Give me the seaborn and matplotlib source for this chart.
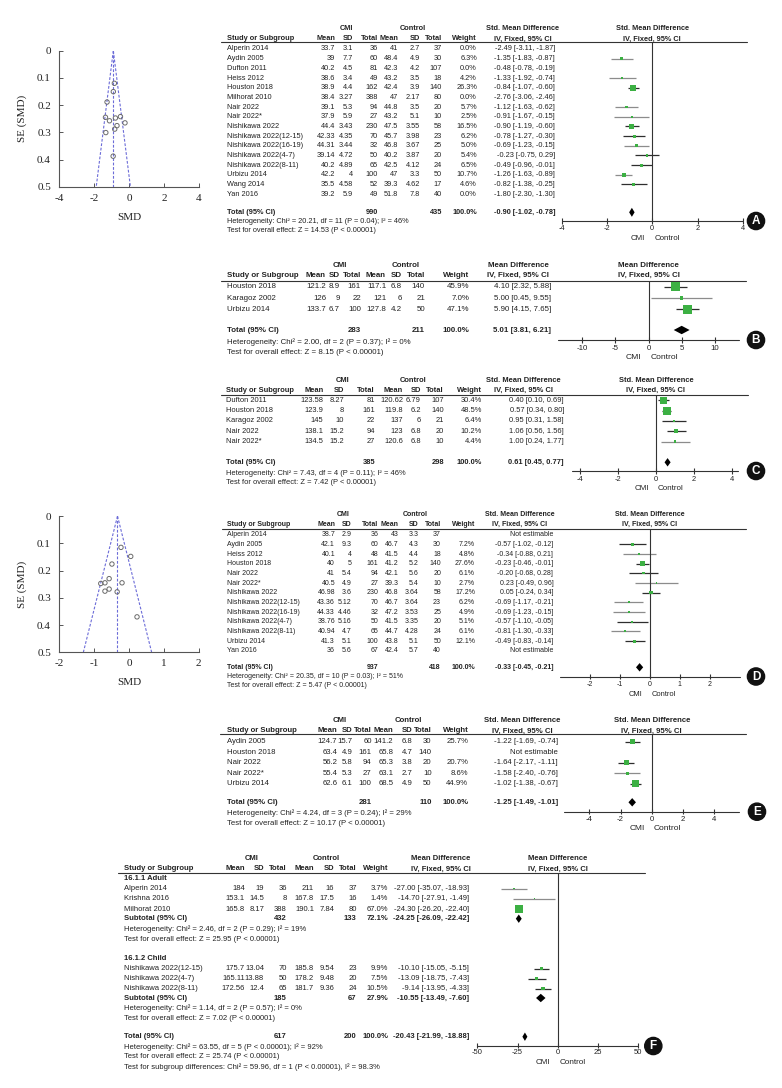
import numpy as np
import matplotlib
matplotlib.use("Agg")
import matplotlib.pyplot as plt
import seaborn as sns
from matplotlib.patches import Circle

sns.set_theme(style="white")
plt.rcParams['font.family'] = ['Liberation Sans', 'DejaVu Sans']
plt.rcParams['axes.unicode_minus'] = False

##-------------------------------------------
## data
# A: std. mean difference
a_study = ["Alperin 2014", "Aydin 2005", "Dufton 2011", "Heiss 2012", "Houston 2018", "Milhorat 2010",
           "Nair 2022", "Nair 2022*", "Nishikawa 2022", "Nishikawa 2022(12-15)", "Nishikawa 2022(16-19)",
           "Nishikawa 2022(4-7)", "Nishikawa 2022(8-11)", "Urbizu 2014", "Wang 2014", "Yan 2016"]
a_cmi_mean = [33.7, 39, 40.2, 38.6, 38.9, 38.4, 39.1, 37.9, 44.4, 42.33, 44.31, 39.14, 40.2, 42.2, 35.5, 39.2]
a_cmi_sd = [3.1, 7.7, 4.5, 3.4, 4.4, 3.27, 5.3, 5.9, 3.43, 4.35, 3.44, 4.72, 4.89, 4, 4.58, 5.9]
a_cmi_n = [36, 60, 81, 49, 162, 388, 94, 27, 230, 70, 32, 50, 65, 100, 52, 49]
a_ctl_mean = [41, 48.4, 42.3, 43.2, 42.4, 47, 44.8, 43.2, 47.5, 45.7, 46.8, 40.2, 42.5, 47, 39.3, 51.8]
a_ctl_sd = [2.7, 4.9, 4.2, 3.5, 3.9, 2.17, 3.5, 5.1, 3.55, 3.98, 3.67, 3.87, 4.12, 3.3, 4.62, 7.8]
a_ctl_n = [37, 30, 107, 18, 140, 80, 20, 10, 58, 23, 25, 20, 24, 50, 17, 40]
a_weight = [0.0, 6.3, 0.0, 4.2, 26.3, 0.0, 5.7, 2.5, 16.5, 6.2, 5.0, 5.4, 6.5, 10.7, 4.6, 0.0]
a_est = [-2.49, -1.35, -0.48, -1.33, -0.84, -2.76, -1.12, -0.91, -0.90, -0.78, -0.69, -0.23, -0.49, -1.26, -0.82, -1.80]
a_lo = [-3.11, -1.83, -0.78, -1.92, -1.07, -3.06, -1.63, -1.67, -1.19, -1.27, -1.23, -0.75, -0.96, -1.63, -1.38, -2.30]
a_hi = [-1.87, -0.87, -0.19, -0.74, -0.60, -2.46, -0.62, -0.15, -0.60, -0.30, -0.15, 0.29, -0.01, -0.89, -0.25, -1.30]
a_tot_n = [990, 435]
a_tot = [-0.90, -1.02, -0.78]
a_het = "Heterogeneity: Chi² = 20.21, df = 11 (P = 0.04); I² = 46%"
a_z = "Test for overall effect: Z = 14.53 (P < 0.00001)"

# B: mean difference
b_study = ["Houston 2018", "Karagoz 2002", "Urbizu 2014"]
b_cmi_mean = [121.2, 126, 133.7]
b_cmi_sd = [8.9, 9, 6.7]
b_cmi_n = [161, 22, 100]
b_ctl_mean = [117.1, 121, 127.8]
b_ctl_sd = [6.8, 6, 4.2]
b_ctl_n = [140, 21, 50]
b_weight = [45.9, 7.0, 47.1]
b_est = [4.10, 5.00, 5.90]
b_lo = [2.32, 0.45, 4.15]
b_hi = [5.88, 9.55, 7.65]
b_tot_n = [283, 211]
b_tot = [5.01, 3.81, 6.21]
b_het = "Heterogeneity: Chi² = 2.00, df = 2 (P = 0.37); I² = 0%"
b_z = "Test for overall effect: Z = 8.15 (P < 0.00001)"

# C: std. mean difference
c_study = ["Dufton 2011", "Houston 2018", "Karagoz 2002", "Nair 2022", "Nair 2022*"]
c_cmi_mean = [123.58, 123.9, 145, 138.1, 134.5]
c_cmi_sd = [8.27, 8, 10, 15.2, 15.2]
c_cmi_n = [81, 161, 22, 94, 27]
c_ctl_mean = [120.62, 119.8, 137, 123, 120.6]
c_ctl_sd = [6.79, 6.2, 6, 6.8, 6.8]
c_ctl_n = [107, 140, 21, 20, 10]
c_weight = [30.4, 48.5, 6.4, 10.2, 4.4]
c_est = [0.40, 0.57, 0.95, 1.06, 1.00]
c_lo = [0.10, 0.34, 0.31, 0.56, 0.24]
c_hi = [0.69, 0.80, 1.58, 1.56, 1.77]
c_tot_n = [385, 298]
c_tot = [0.61, 0.45, 0.77]
c_het = "Heterogeneity: Chi² = 7.43, df = 4 (P = 0.11); I² = 46%"
c_z = "Test for overall effect: Z = 7.42 (P < 0.00001)"

# D: std. mean difference (nan = not estimable)
d_study = ["Alperin 2014", "Aydin 2005", "Heiss 2012", "Houston 2018", "Nair 2022", "Nair 2022*",
           "Nishikawa 2022", "Nishikawa 2022(12-15)", "Nishikawa 2022(16-19)", "Nishikawa 2022(4-7)",
           "Nishikawa 2022(8-11)", "Urbizu 2014", "Yan 2016"]
d_cmi_mean = [38.7, 42.1, 40.1, 40, 41, 40.5, 46.98, 43.36, 44.33, 38.76, 40.94, 41.3, 36]
d_cmi_sd = [2.9, 9.3, 4, 5, 5.4, 4.9, 3.6, 5.12, 4.46, 5.16, 4.7, 5.1, 5.6]
d_cmi_n = [36, 60, 48, 161, 94, 27, 230, 70, 32, 50, 65, 100, 67]
d_ctl_mean = [43, 46.7, 41.5, 41.2, 42.1, 39.3, 46.8, 46.7, 47.2, 41.5, 44.7, 43.8, 42.4]
d_ctl_sd = [3.3, 4.3, 4.4, 5.2, 5.6, 5.4, 3.64, 3.64, 3.53, 3.35, 4.28, 5.1, 5.7]
d_ctl_n = [37, 30, 18, 140, 20, 10, 58, 23, 25, 20, 24, 50, 40]
d_weight = [np.nan, 7.2, 4.8, 27.6, 6.1, 2.7, 17.2, 6.2, 4.9, 5.1, 6.1, 12.1, np.nan]
d_est = [np.nan, -0.57, -0.34, -0.23, -0.20, 0.23, 0.05, -0.69, -0.69, -0.57, -0.81, -0.49, np.nan]
d_lo = [np.nan, -1.02, -0.88, -0.46, -0.68, -0.49, -0.24, -1.17, -1.23, -1.10, -1.30, -0.83, np.nan]
d_hi = [np.nan, -0.12, 0.21, -0.01, 0.28, 0.96, 0.34, -0.21, -0.15, -0.05, -0.33, -0.14, np.nan]
d_tot_n = [937, 418]
d_tot = [-0.33, -0.45, -0.21]
d_het = "Heterogeneity: Chi² = 20.35, df = 10 (P = 0.03); I² = 51%"
d_z = "Test for overall effect: Z = 5.47 (P < 0.00001)"

# E: std. mean difference
e_study = ["Aydin 2005", "Houston 2018", "Nair 2022", "Nair 2022*", "Urbizu 2014"]
e_cmi_mean = [124.7, 63.4, 56.2, 55.4, 62.6]
e_cmi_sd = [15.7, 4.9, 5.8, 5.3, 6.1]
e_cmi_n = [60, 161, 94, 27, 100]
e_ctl_mean = [141.2, 65.8, 65.3, 63.1, 68.5]
e_ctl_sd = [6.8, 4.7, 3.8, 2.7, 4.9]
e_ctl_n = [30, 140, 20, 10, 50]
e_weight = [25.7, np.nan, 20.7, 8.6, 44.9]
e_est = [-1.22, np.nan, -1.64, -1.58, -1.02]
e_lo = [-1.69, np.nan, -2.17, -2.40, -1.38]
e_hi = [-0.74, np.nan, -1.11, -0.76, -0.67]
e_tot_n = [281, 110]
e_tot = [-1.25, -1.49, -1.01]
e_het = "Heterogeneity: Chi² = 4.24, df = 3 (P = 0.24); I² = 29%"
e_z = "Test for overall effect: Z = 10.17 (P < 0.00001)"

# F: mean difference with subgroups
f_groups = ["16.1.1 Adult", "16.1.2 Child"]
f_study = ["Alperin 2014", "Krishna 2016", "Milhorat 2010",
           "Nishikawa 2022(12-15)", "Nishikawa 2022(4-7)", "Nishikawa 2022(8-11)"]
f_group_of = [0, 0, 0, 1, 1, 1]
f_cmi_mean = [184, 153.1, 165.8, 175.7, 165.11, 172.56]
f_cmi_sd = [19, 14.5, 8.17, 13.04, 13.88, 12.4]
f_cmi_n = [36, 8, 388, 70, 50, 65]
f_ctl_mean = [211, 167.8, 190.1, 185.8, 178.2, 181.7]
f_ctl_sd = [16, 17.5, 7.84, 9.54, 9.48, 9.36]
f_ctl_n = [37, 16, 80, 23, 20, 24]
f_weight = [3.7, 1.4, 67.0, 9.9, 7.5, 10.5]
f_est = [-27.00, -14.70, -24.30, -10.10, -13.09, -9.14]
f_lo = [-35.07, -27.91, -26.20, -15.05, -18.75, -13.95]
f_hi = [-18.93, -1.49, -22.40, -5.15, -7.43, -4.33]
f_sub_n = [[432, 133], [185, 67]]
f_sub_w = [72.1, 27.9]
f_sub = [[-24.25, -26.09, -22.42], [-10.55, -13.49, -7.60]]
f_sub_het = ["Heterogeneity: Chi² = 2.46, df = 2 (P = 0.29); I² = 19%",
             "Heterogeneity: Chi² = 1.14, df = 2 (P = 0.57); I² = 0%"]
f_sub_z = ["Test for overall effect: Z = 25.95 (P < 0.00001)",
           "Test for overall effect: Z = 7.02 (P < 0.00001)"]
f_tot_n = [617, 200]
f_tot = [-20.43, -21.99, -18.88]
f_het = "Heterogeneity: Chi² = 63.55, df = 5 (P < 0.00001); I² = 92%"
f_z = "Test for overall effect: Z = 25.74 (P < 0.00001)"
f_diff = "Test for subgroup differences: Chi² = 59.96, df = 1 (P < 0.00001), I² = 98.3%"

## line shades of the CI whiskers (style only)
a_shade = "-g-gk-ggkkgkkgk-"
b_shade = "kgk"
c_shade = "kkkkg"
d_shade = "-kgkkgkggkgk-"
e_shade = "k-kgk"
f_shade = "ggkkkk"

##-------------------------------------------
## layout (pixels of the 782x1088 canvas)
W, H = 782, 1088
GREEN = '#3cb043'
INK = '#222222'
SHADE = {'k': '#2e2e2e', 'g': '#8c8c8c', '-': 'none'}

LA = dict(fs=5.3, name=227, cols=[335, 353, 378, 398, 420, 442, 477], ci=555, cmi=346, ctl=413, eff=523,
          line=(221, 747), h1=29, h2=39, ly=42, y0=49, dy=9.67, tot=212.3, het=221.7, z=230.7,
          zero=652.3, ppu=22.7, ay=221, arng=(-4, 4), ticks=[-4, -2, 0, 2, 4], ty=228.5, fy=239,
          circ=(756, 221), k=1.2, dh=4.5, lab='A')
LB = dict(fs=5.7, name=227, cols=[326, 340, 361, 386, 402, 425, 469], ci=551, cmi=340, ctl=406, eff=518,
          line=(221, 746), h1=265.7, h2=275.7, ly=280.5, y0=286.7, dy=11.3, tot=330, het=341.7, z=352.3,
          zero=648.5, ppu=6.62, ay=340, arng=(-13.7, 13.7), ticks=[-10, -5, 0, 5, 10], ty=348, fy=357.5,
          circ=(756, 340), k=1.35, dh=4.2, lab='B')
LC = dict(fs=5.4, name=226, cols=[323.5, 344, 375, 403, 421, 444, 482], ci=564, cmi=343, ctl=413, eff=523.5,
          line=(220.5, 748), h1=381, h2=390.7, ly=395, y0=400.4, dy=10.3, tot=462.3, het=473.3, z=482.3,
          zero=656, ppu=18.98, ay=471, arng=(-4.4, 4.3), ticks=[-4, -2, 0, 2, 4], ty=479.3, fy=488.3,
          circ=(756, 471), k=1.15, dh=4.2, lab='C')
LD = dict(fs=5.0, name=227, cols=[335, 351.7, 378.3, 398.3, 418.3, 441, 475], ci=553.3, cmi=343, ctl=415, eff=520,
          line=(221.6, 746), h1=514.3, h2=524.3, ly=528.5, y0=534.7, dy=9.67, tot=667.3, het=676.7, z=685.3,
          zero=649.5, ppu=30.0, ay=676.7, arng=(-3, 3), ticks=[-2, -1, 0, 1, 2], ty=684, fy=694,
          circ=(756, 676.5), k=0.85, dh=4.2, lab='D')
LE = dict(fs=5.6, name=227, cols=[337.3, 352.3, 371.7, 393.3, 412.3, 431.7, 468.3], ci=557.7, cmi=340, ctl=408.3,
          eff=522, line=(220, 746), h1=720.3, h2=731, ly=734.3, y0=741.7, dy=10.5, tot=802.3, het=813.3, z=823.3,
          zero=651.7, ppu=15.6, ay=811.7, arng=(-5.6, 5.6), ticks=[-4, -2, 0, 2, 4], ty=819.3, fy=829,
          circ=(757, 811.7), k=1.05, dh=4.2, lab='E')
LF = dict(fs=5.5, name=124, cols=[245, 264, 286.7, 314, 334, 356.7, 388.3], ci=469.3, cmi=252, ctl=326, eff=440.6,
          line=(118, 645), h1=859, h2=869, ly=873, zero=557.7, ppu=1.605, ay=1045.7, arng=(-50, 50),
          ticks=[-50, -25, 0, 25, 50], ty=1052.7, fy=1062.3, circ=(653.3, 1046), k=1.0, dh=4.2, lab='F',
          grp_y=[878.5, 958.3], rows_y=[888.5, 898.9, 909.3, 968.7, 978.7, 988.7],
          sub_y=[918.7, 998], sub_het=[929.3, 1008.3], sub_z=[939.3, 1018],
          tot=1036.7, het=1047, z=1057, diff=1067)

fig = plt.figure(figsize=(W / 100, H / 100), dpi=100)
fig.patch.set_facecolor('white')
tax = fig.add_axes([0, 0, 1, 1])
tax.set_xlim(0, W)
tax.set_ylim(H, 0)
tax.axis('off')


def fmt(v):
    return f"{v:g}"


def ci_txt(e, lo, hi):
    return f"{e:.2f} [{lo:.2f}, {hi:.2f}]"


def txt(x, y, s, fs, ha='left', bold=False, color=INK):
    tax.text(x, y, s, fontsize=fs, ha=ha, va='center', color=color,
             fontweight='bold' if bold else 'normal')


def header(L, measure):
    fs = L['fs']
    txt(L['cmi'], L['h1'], 'CMI', fs, 'center', True)
    txt(L['ctl'], L['h1'], 'Control', fs, 'center', True)
    txt(L['eff'], L['h1'], measure, fs, 'center', True)
    txt(L['zero'], L['h1'], measure, fs, 'center', True)
    txt(L['name'], L['h2'], 'Study or Subgroup', fs, 'left', True)
    for x, s in zip(L['cols'], ['Mean', 'SD', 'Total', 'Mean', 'SD', 'Total', 'Weight']):
        txt(x, L['h2'], s, fs, 'right', True)
    txt(L['eff'], L['h2'], 'IV, Fixed, 95% CI', fs, 'center', True)
    txt(L['zero'], L['h2'], 'IV, Fixed, 95% CI', fs, 'center', True)
    tax.plot(L['line'], [L['ly'], L['ly']], color='#333333', lw=0.8)


def row(L, y, name, vals, wtxt, ctxt, bold=False):
    fs = L['fs']
    txt(L['name'], y, name, fs, 'left', bold)
    for x, s in zip(L['cols'][:6], vals):
        txt(x, y, s, fs, 'right', bold)
    txt(L['cols'][6], y, wtxt, fs, 'right', bold)
    txt(L['ci'], y, ctxt, fs, 'right', bold)


def forest_axes(L):
    x0, x1 = L['zero'] - 135, L['zero'] + 135
    ax = fig.add_axes([x0 / W, 0, (x1 - x0) / W, 1])
    ax.patch.set_alpha(0)
    return ax


def finish_forest(ax, L, top_y):
    ax.plot(L['arng'], [L['ay'], L['ay']], color='#333333', lw=0.8)
    ax.vlines(L['ticks'], L['ay'] - 3, L['ay'] + 2.5, color='#333333', lw=0.8)
    ax.vlines([0], top_y, L['ay'], color='#333333', lw=0.8)
    for t in L['ticks']:
        ax.text(t, L['ty'], fmt(t), fontsize=L['fs'], ha='center', va='center', color=INK)
    x0, x1 = L['zero'] - 135, L['zero'] + 135
    ax.set_xlim((x0 - L['zero']) / L['ppu'], (x1 - L['zero']) / L['ppu'])
    ax.set_ylim(H, 0)
    ax.axis('off')
    txt(L['zero'] - 7, L['fy'], 'CMI', L['fs'] + 0.4, 'right')
    txt(L['zero'] + 2, L['fy'], 'Control', L['fs'] + 0.4, 'left')
    cx, cy = L['circ']
    tax.add_patch(Circle((cx, cy), 8.6, color='#111111', zorder=5))
    tax.text(cx, cy + 0.3, L['lab'], color='white', fontsize=8.5, fontweight='bold',
             ha='center', va='center', zorder=6)


def marks(ax, L, est, lo, hi, w, ys, shade):
    est, lo, hi, w, ys = map(np.asarray, (est, lo, hi, w, ys))
    ok = np.isfinite(w) & (w > 0)
    cols = [SHADE[s] for s, m in zip(shade, ok) if m]
    ax.hlines(ys[ok], lo[ok], hi[ok], colors=cols, lw=0.9, zorder=2)
    smax = (0.72 * L['k']) ** 2 * 100
    sns.scatterplot(x=est[ok], y=ys[ok], size=w[ok], sizes=(0, smax), size_norm=(0, 100),
                    marker='s', color=GREEN, linewidth=0, legend=False, ax=ax, zorder=3)


def diamond(ax, L, e, lo, hi, y):
    h = L['dh']
    ax.fill([lo, e, hi, e], [y, y - h, y, y + h], color='black', lw=0, zorder=4)


def simple_panel(L, measure, study, cm, cs, cn, km, ks, kn, w, est, lo, hi, tot_n, tot, het, z, shade):
    header(L, measure)
    ys = L['y0'] + L['dy'] * np.arange(len(study))
    for i, y in enumerate(ys):
        vals = [fmt(cm[i]), fmt(cs[i]), str(cn[i]), fmt(km[i]), fmt(ks[i]), str(kn[i])]
        if np.isfinite(w[i]):
            row(L, y, study[i], vals, f"{w[i]:.1f}%", ci_txt(est[i], lo[i], hi[i]))
        else:
            row(L, y, study[i], vals, '', 'Not estimable')
    row(L, L['tot'], 'Total (95% CI)', ['', '', str(tot_n[0]), '', '', str(tot_n[1])], '100.0%',
        ci_txt(*tot), bold=True)
    txt(L['name'], L['het'], het, L['fs'])
    txt(L['name'], L['z'], z, L['fs'])
    ax = forest_axes(L)
    marks(ax, L, est, lo, hi, w, ys, shade)
    diamond(ax, L, tot[0], tot[1], tot[2], L['tot'])
    finish_forest(ax, L, L['ly'])


simple_panel(LA, 'Std. Mean Difference', a_study, a_cmi_mean, a_cmi_sd, a_cmi_n, a_ctl_mean, a_ctl_sd,
             a_ctl_n, a_weight, a_est, a_lo, a_hi, a_tot_n, a_tot, a_het, a_z, a_shade)
simple_panel(LB, 'Mean Difference', b_study, b_cmi_mean, b_cmi_sd, b_cmi_n, b_ctl_mean, b_ctl_sd,
             b_ctl_n, b_weight, b_est, b_lo, b_hi, b_tot_n, b_tot, b_het, b_z, b_shade)
simple_panel(LC, 'Std. Mean Difference', c_study, c_cmi_mean, c_cmi_sd, c_cmi_n, c_ctl_mean, c_ctl_sd,
             c_ctl_n, c_weight, c_est, c_lo, c_hi, c_tot_n, c_tot, c_het, c_z, c_shade)
simple_panel(LD, 'Std. Mean Difference', d_study, d_cmi_mean, d_cmi_sd, d_cmi_n, d_ctl_mean, d_ctl_sd,
             d_ctl_n, d_weight, d_est, d_lo, d_hi, d_tot_n, d_tot, d_het, d_z, d_shade)
simple_panel(LE, 'Std. Mean Difference', e_study, e_cmi_mean, e_cmi_sd, e_cmi_n, e_ctl_mean, e_ctl_sd,
             e_ctl_n, e_weight, e_est, e_lo, e_hi, e_tot_n, e_tot, e_het, e_z, e_shade)

## panel F with subgroups
L = LF
header(L, 'Mean Difference')
for g, gname in enumerate(f_groups):
    txt(L['name'], L['grp_y'][g], gname, L['fs'], 'left', True)
    for i in range(len(f_study)):
        if f_group_of[i] != g:
            continue
        vals = [fmt(f_cmi_mean[i]), fmt(f_cmi_sd[i]), str(f_cmi_n[i]),
                fmt(f_ctl_mean[i]), fmt(f_ctl_sd[i]), str(f_ctl_n[i])]
        row(L, L['rows_y'][i], f_study[i], vals, f"{f_weight[i]:.1f}%", ci_txt(f_est[i], f_lo[i], f_hi[i]))
    row(L, L['sub_y'][g], 'Subtotal (95% CI)', ['', '', str(f_sub_n[g][0]), '', '', str(f_sub_n[g][1])],
        f"{f_sub_w[g]:.1f}%", ci_txt(*f_sub[g]), bold=True)
    txt(L['name'], L['sub_het'][g], f_sub_het[g], L['fs'])
    txt(L['name'], L['sub_z'][g], f_sub_z[g], L['fs'])
row(L, L['tot'], 'Total (95% CI)', ['', '', str(f_tot_n[0]), '', '', str(f_tot_n[1])], '100.0%',
    ci_txt(*f_tot), bold=True)
txt(L['name'], L['het'], f_het, L['fs'])
txt(L['name'], L['z'], f_z, L['fs'])
txt(L['name'], L['diff'], f_diff, L['fs'])
axf = forest_axes(L)
marks(axf, L, f_est, f_lo, f_hi, np.array(f_weight), L['rows_y'], f_shade)
for g in range(2):
    diamond(axf, L, f_sub[g][0], f_sub[g][1], f_sub[g][2], L['sub_y'][g])
diamond(axf, L, f_tot[0], f_tot[1], f_tot[2], L['tot'])
finish_forest(axf, L, L['ly'])


##-------------------------------------------
## funnel plots
def funnel(box, xlim, xticks, pooled, est, lo, hi, w):
    l, r, t, b = box
    ax = fig.add_axes([l / W, 1 - b / H, (r - l) / W, (b - t) / H])
    est, lo, hi, w = map(np.asarray, (est, lo, hi, w))
    ok = np.isfinite(w) & (w > 0)
    se = (hi[ok] - lo[ok]) / 3.92
    sns.scatterplot(x=est[ok], y=se, marker='o', s=10, facecolor='none', edgecolor='#6b6b6b',
                    linewidth=0.7, ax=ax, zorder=3)
    fc = dict(color='#6c6cd8', lw=0.8, ls=(0, (2.5, 1.5)))
    ax.plot([pooled, pooled - 1.96 * 0.5], [0, 0.5], **fc)
    ax.plot([pooled, pooled + 1.96 * 0.5], [0, 0.5], **fc)
    ax.plot([pooled, pooled], [0, 0.5], **fc)
    ax.set_xlim(xlim)
    ax.set_ylim(0.5, 0)
    ax.set_xticks(xticks)
    ax.set_xticklabels([fmt(v) for v in xticks])
    ax.set_yticks([0, 0.1, 0.2, 0.3, 0.4, 0.5])
    ax.set_yticklabels(['0', '0.1', '0.2', '0.3', '0.4', '0.5'])
    serif = ['Liberation Serif', 'DejaVu Serif']
    for lab in ax.get_xticklabels() + ax.get_yticklabels():
        lab.set_fontfamily(serif)
        lab.set_fontsize(8)
        lab.set_color(INK)
    ax.tick_params(axis='both', direction='in', length=3, width=0.7, color='#555555')
    ax.tick_params(axis='y', pad=6, left=True)
    ax.tick_params(axis='x', pad=5, bottom=True)
    ax.set_xlabel('SMD', fontfamily=serif, fontsize=8, color=INK)
    ax.set_ylabel('SE (SMD)', fontfamily=serif, fontsize=8, color=INK)
    ax.xaxis.set_label_coords(0.5, -0.19)
    ax.yaxis.set_label_coords(-0.235, 0.5)
    for s in ['top', 'right']:
        ax.spines[s].set_visible(False)
    for s in ['left', 'bottom']:
        ax.spines[s].set_color('#555555')
        ax.spines[s].set_linewidth(0.8)
    ax.patch.set_alpha(0)


funnel((59.3, 198.7, 50.7, 186.7), (-4, 4), [-4, -2, 0, 2, 4], a_tot[0], a_est, a_lo, a_hi, a_weight)
funnel((59.3, 198.7, 516.1, 652.3), (-2, 2), [-2, -1, 0, 1, 2], d_tot[0], d_est, d_lo, d_hi, d_weight)

fig.savefig('out.png', dpi=100, facecolor='white')
